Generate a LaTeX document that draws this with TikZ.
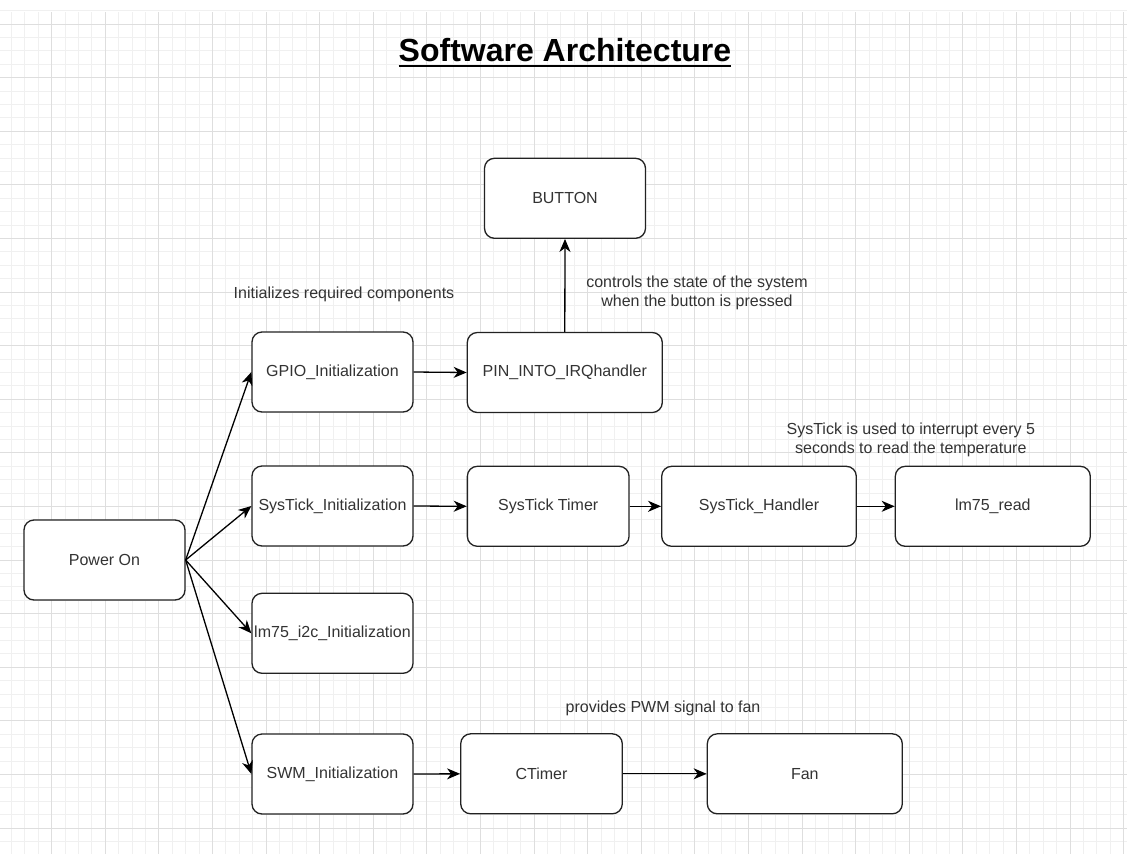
\documentclass[tikz,border=0pt]{standalone}
\usepackage{fontspec}
\setmainfont{Liberation Sans}
\usetikzlibrary{arrows.meta}
\definecolor{txt}{HTML}{333333}
\definecolor{gridminor}{HTML}{F0F0F0}
\definecolor{gridmajor}{HTML}{DEDEDE}
\definecolor{boxline}{HTML}{222222}
\begin{document}
\begin{tikzpicture}[x=1pt,y=-1pt,
  box/.style={draw=boxline, line width=1.3pt, rounded corners=10pt, fill=white,
    minimum height=80pt, inner sep=0pt, font=\fontsize{16}{19}\selectfont, text=txt},
  lbl/.style={font=\fontsize{16}{19}\selectfont, text=txt, align=center, inner sep=0pt},
  conn/.style={draw=black, line width=1.3pt, -{Stealth[length=13pt,width=11pt,inset=4pt]}},
  minorg/.style={draw=gridminor, line width=0.9pt},
  majorg/.style={draw=gridmajor, line width=1pt}]
\fill[white] (0,0) rectangle (1127,854);
\useasboundingbox (0,0) rectangle (1127,854);
% grid
\foreach \i in {0,...,84} \draw[minorg] ({-1.9+13.4*\i},12) -- ({-1.9+13.4*\i},854);
\foreach \j in {0,...,62} \draw[minorg] (0,{10.6+13.4*\j}) -- (1127,{10.6+13.4*\j});
\foreach \i in {0,...,21} \draw[majorg] ({-1.9+53.6*\i},12) -- ({-1.9+53.6*\i},854);
\foreach \j in {0,...,15} \draw[majorg] (0,{24+53.6*\j}) -- (1127,{24+53.6*\j});

% title
\node[anchor=base, inner sep=0pt, font=\fontsize{32}{38}\selectfont\bfseries, text=black] (title) at (565,61.7) {Software Architecture};
\draw[line width=2.2pt] ([yshift=-4.2pt]title.base west) -- ([yshift=-4.2pt]title.base east);

% boxes
\node[box, minimum width=161pt] (power) at (104.5,560) {Power On};
\node[box, minimum width=161pt] (gpio) at (332.5,372) {GPIO\_Initialization};
\node[box, minimum width=161pt] (sinit) at (332.5,506) {SysTick\_Initialization};
\node[box, minimum width=161pt] (i2c) at (332.5,633.3) {lm75\_i2c\_Initialization};
\node[box, minimum width=161pt] (swm) at (332.5,774) {SWM\_Initialization};
\node[box, minimum width=195pt] (pin) at (564.8,372.5) {PIN\_INTO\_IRQhandler};
\node[box, minimum width=161pt] (button) at (565,198.3) {BUTTON};
\node[box, minimum width=161.7pt] (timer) at (548.2,506.3) {SysTick Timer};
\node[box, minimum width=194.6pt] (handler) at (759,506.3) {SysTick\_Handler};
\node[box, minimum width=195pt] (read) at (992.8,506.3) {lm75\_read};
\node[box, minimum width=161.6pt] (ctimer) at (541.5,773.8) {CTimer};
\node[box, minimum width=195pt] (fan) at (804.8,773.8) {Fan};

% labels
\node[lbl] (lblinit) at (344,294) {Initializes required components};
\node[lbl] (lblbtn) at (697,293) {controls the state of the system\\when the button is pressed};
\node[lbl] (lblsys) at (910.8,440) {SysTick is used to interrupt every 5\\seconds to read the temperature};
\node[lbl] (lblpwm) at (663,708) {provides PWM signal to fan};

% connectors
\draw[conn] (power.east) -- (gpio.west);
\draw[conn] (power.east) -- (sinit.west);
\draw[conn] (power.east) -- (i2c.west);
\draw[conn] (power.east) -- (swm.west);
\draw[conn] (gpio.east) -- (pin.west);
\draw[conn] (pin.north) -- (button.south);
\draw[conn] (sinit.east) -- (timer.west);
\draw[conn] (timer.east) -- (handler.west);
\draw[conn] (handler.east) -- (read.west);
\draw[conn] (swm.east) -- (ctimer.west);
\draw[conn] (ctimer.east) -- (fan.west);
\end{tikzpicture}
\end{document}
